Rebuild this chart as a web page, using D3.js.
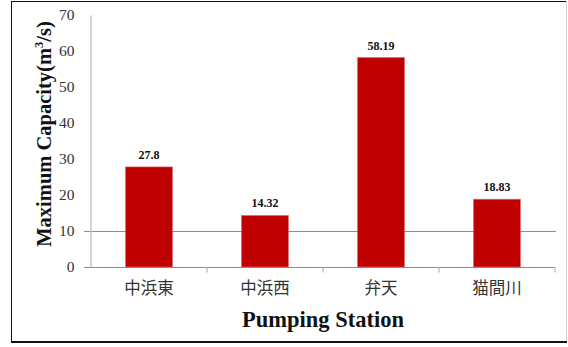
<!DOCTYPE html>
<html>
<head>
<meta charset="utf-8">
<script src="https://cdn.jsdelivr.net/npm/d3@7"></script>
<style>
  html, body { margin: 0; padding: 0; background: #fff; }
  svg { display: block; }
</style>
</head>
<body>
<svg id="chart" width="568" height="347"></svg>
<script>
// Pumping station maximum capacities (m³/s)
const stations = ["中浜東", "中浜西", "弁天", "猫間川"];
const capacities = [27.8, 14.32, 58.19, 18.83];
const capacityLabels = ["27.8", "14.32", "58.19", "18.83"];
const yTicks = [0, 10, 20, 30, 40, 50, 60, 70];
const gridValues = [10];

const svg = d3.select("#chart");
const W = 568, H = 347;
const margin = { left: 91, right: 13, top: 15, bottom: 80 };
const serif = "'Liberation Serif', 'Times New Roman', serif";

// frame around the chart
svg.append("line").attr("x1", 11.5).attr("x2", 11.5).attr("y1", 1).attr("y2", 343)
  .attr("stroke", "#111").attr("stroke-width", 1);
svg.append("line").attr("x1", 11).attr("x2", 567).attr("y1", 1.5).attr("y2", 1.5)
  .attr("stroke", "#111").attr("stroke-width", 1);
svg.append("line").attr("x1", 566.5).attr("x2", 566.5).attr("y1", 1).attr("y2", 342)
  .attr("stroke", "#d0d0d0").attr("stroke-width", 1);
svg.append("line").attr("x1", 11).attr("x2", 567).attr("y1", 342).attr("y2", 342)
  .attr("stroke", "#111").attr("stroke-width", 2);

const x = d3.scaleBand()
  .domain(stations)
  .range([margin.left, W - margin.right])
  .paddingInner(0.595)
  .paddingOuter(0.2975);

const y = d3.scaleLinear()
  .domain([0, 70])
  .range([267, margin.top]);

// horizontal gridline
svg.append("g").selectAll("line").data(gridValues).join("line")
  .attr("x1", 84).attr("x2", 556)
  .attr("y1", d => Math.round(y(d)) + 0.5).attr("y2", d => Math.round(y(d)) + 0.5)
  .attr("stroke", "#8c8c8c").attr("stroke-width", 1);

// y axis
const yAxis = d3.axisLeft(y).tickValues(yTicks).tickSize(0).tickPadding(16);
const gy = svg.append("g").attr("transform", "translate(90.5,0)").call(yAxis);
gy.attr("font-family", serif);
gy.select(".domain").attr("stroke", "#c4c4c4").attr("stroke-width", 1.5);
gy.selectAll("text")
  .style("font-family", serif)
  .attr("font-size", 15.5).attr("fill", "#333");

// bars
svg.append("g").selectAll("rect").data(capacities).join("rect")
  .attr("x", (d, i) => x(stations[i]))
  .attr("width", x.bandwidth())
  .attr("y", d => y(d))
  .attr("height", d => y(0) - y(d))
  .attr("fill", "#c00000")
  .attr("stroke", "#e06a6a").attr("stroke-width", 0.6);

// x axis baseline and category ticks
const xAxis = d3.axisBottom(x).tickSize(0).tickPadding(15);
const gx = svg.append("g").attr("transform", "translate(0,267.5)").call(xAxis);
gx.select(".domain").remove();
gx.append("line").attr("x1", 84).attr("x2", W - margin.right)
  .attr("stroke", "#8c8c8c").attr("stroke-width", 1);
const step = x.step();
gx.selectAll(".sep").data(stations).join("line").attr("class", "sep")
  .attr("x1", d => x(d) + x.bandwidth() / 2 + step / 2)
  .attr("x2", d => x(d) + x.bandwidth() / 2 + step / 2)
  .attr("y1", 0).attr("y2", 5)
  .attr("stroke", "#c4c4c4").attr("stroke-width", 1.5);
gx.selectAll(".tick text")
  .style("font-family", "'Noto Sans CJK JP', 'Noto Sans CJK SC', sans-serif")
  .attr("font-size", 16.5).attr("fill", "#333");

// value labels
svg.append("g").selectAll("text").data(capacities).join("text")
  .attr("x", (d, i) => x(stations[i]) + x.bandwidth() / 2)
  .attr("y", d => y(d) - 8)
  .attr("text-anchor", "middle")
  .style("font-family", serif)
  .attr("font-weight", "bold").attr("font-size", 12).attr("fill", "#111")
  .text((d, i) => capacityLabels[i]);

// axis titles
svg.append("text")
  .attr("x", 323).attr("y", 327)
  .attr("text-anchor", "middle")
  .style("font-family", serif)
  .attr("font-weight", "bold").attr("font-size", 22.5).attr("fill", "#111")
  .text("Pumping Station");

const yTitle = svg.append("text")
  .attr("transform", "translate(51,134) rotate(-90)")
  .attr("text-anchor", "middle")
  .style("font-family", serif)
  .attr("font-weight", "bold").attr("font-size", 20.5).attr("fill", "#111");
yTitle.append("tspan").text("Maximum Capacity(m");
yTitle.append("tspan").attr("font-size", 12.5).attr("dy", -8).text("3");
yTitle.append("tspan").attr("dy", 8).text("/s)");
</script>
</body>
</html>
